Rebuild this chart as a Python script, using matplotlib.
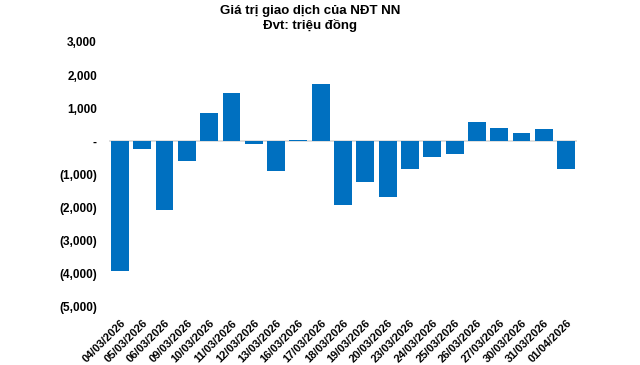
import matplotlib
matplotlib.use("Agg")
import matplotlib.pyplot as plt
from matplotlib.ticker import FuncFormatter

# data (triệu đồng)
dates = ["04/03/2026", "05/03/2026", "06/03/2026", "09/03/2026", "10/03/2026",
         "11/03/2026", "12/03/2026", "13/03/2026", "16/03/2026", "17/03/2026",
         "18/03/2026", "19/03/2026", "20/03/2026", "23/03/2026", "24/03/2026",
         "25/03/2026", "26/03/2026", "27/03/2026", "30/03/2026", "31/03/2026",
         "01/04/2026"]
values = [-3920, -230, -2070, -600, 850,
          1450, -90, -900, 40, 1720,
          -1920, -1230, -1670, -840, -480,
          -390, 580, 400, 250, 370,
          -840]
y_ticks = [3000, 2000, 1000, 0, -1000, -2000, -3000, -4000, -5000]

plt.rcParams["font.family"] = ["Liberation Sans", "DejaVu Sans"]

fig = plt.figure(figsize=(6.4, 3.65), dpi=100)
ax = fig.add_axes([0.170, 0.159, 0.732, 0.726])

x = range(len(dates))
ax.bar(x, values, width=0.8, color="#0070C0", zorder=2)
ax.axhline(0, color="#d9d9d9", linewidth=1.2, zorder=1)

ax.set_xlim(-0.5, len(dates) - 0.5)
ax.set_ylim(-5000, 3000)
ax.set_yticks(y_ticks)


def acc_fmt(v, pos):
    if v == 0:
        return "-"
    if v < 0:
        return "({:,.0f})".format(-v)
    return "{:,.0f}".format(v)


ax.yaxis.set_major_formatter(FuncFormatter(acc_fmt))
ax.set_xticks(list(x))
ax.set_xticklabels(dates, rotation=45, ha="right", rotation_mode="anchor")

for lbl in ax.get_yticklabels():
    lbl.set_fontsize(8.5)
    lbl.set_fontweight("bold")
for lbl in ax.get_xticklabels():
    lbl.set_fontsize(8)
    lbl.set_fontweight("bold")

ax.tick_params(axis="both", length=0)
ax.tick_params(axis="y", pad=8.5)
ax.tick_params(axis="x", pad=8)
for s in ax.spines.values():
    s.set_visible(False)

fig.text(0.484, 0.987, "Giá trị giao dịch của NĐT NN\nĐvt: triệu đồng",
         ha="center", va="top", fontsize=9.5, fontweight="bold", linespacing=1.2)

fig.savefig("out.png", dpi=100)
